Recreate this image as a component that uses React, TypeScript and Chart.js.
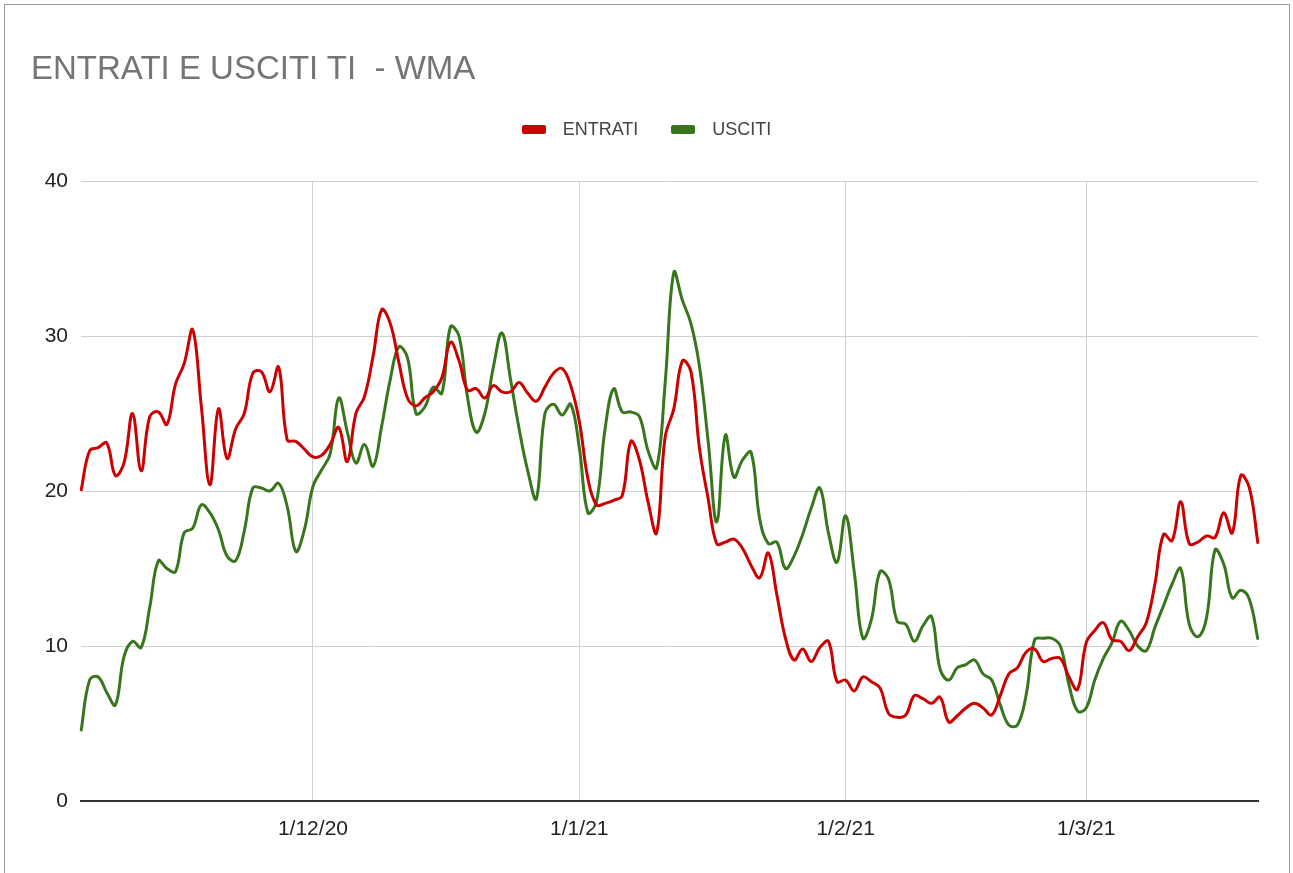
import React, { useEffect, useRef } from "react";
import { Chart, registerables } from "chart.js";

Chart.register(...registerables);

// Daily categories: 4 Nov 2020 .. 21 Mar 2021 (d/m/yy, Italian order)
const START_DATE = new Date(2020, 10, 4);
const DAY_COUNT = 138;
const categories: string[] = Array.from({ length: DAY_COUNT }, (_, i) => {
  const d = new Date(START_DATE.getFullYear(), START_DATE.getMonth(), START_DATE.getDate() + i);
  return `${d.getDate()}/${d.getMonth() + 1}/${String(d.getFullYear()).slice(2)}`;
});

const seriesNames = ["ENTRATI", "USCITI"];
const seriesColors = ["#cc0000", "#38761d"];

const entrati: number[] = [
  20.0, 22.6, 22.8, 23.1, 21.0, 21.8, 25.0, 21.3, 24.8, 25.1,
  24.3, 26.9, 28.2, 30.4, 25.5, 20.4, 25.3, 22.1, 24.0, 25.0,
  27.6, 27.7, 26.4, 28.0, 23.3, 23.2, 22.7, 22.2, 22.3, 23.0,
  24.1, 21.9, 25.0, 26.1, 28.7, 31.7, 30.8, 28.3, 26.0, 25.5,
  26.0, 26.4, 27.3, 29.6, 28.4, 26.5, 26.6, 26.0, 26.8, 26.4,
  26.4, 27.0, 26.3, 25.8, 26.7, 27.6, 27.9, 26.8, 24.5, 20.8,
  19.1, 19.2, 19.4, 19.7, 23.2, 22.0, 19.3, 17.3, 23.5, 25.3,
  28.4, 27.7, 22.7, 19.5, 16.6, 16.7, 16.9, 16.3, 15.2, 14.4,
  16.0, 13.3, 10.5, 9.1, 9.8, 9.0, 9.9, 10.3, 7.7, 7.8,
  7.1, 8.0, 7.7, 7.3, 5.65, 5.4, 5.55, 6.8, 6.6, 6.3,
  6.7, 5.1, 5.5, 6.0, 6.3, 6.0, 5.55, 6.8, 8.2, 8.6,
  9.6, 9.8, 9.0, 9.2, 9.2, 8.0, 7.2, 10.2, 11.0, 11.5,
  10.4, 10.3, 9.7, 10.6, 11.5, 14.0, 17.2, 16.8, 19.3, 16.6,
  16.7, 17.1, 17.0, 18.6, 17.3, 21.0, 20.2, 16.6,
];

const usciti: number[] = [
  4.5, 7.8, 8.0, 7.0, 6.2, 9.3, 10.3, 9.9, 12.5, 15.5,
  15.0, 14.8, 17.3, 17.6, 19.1, 18.6, 17.5, 15.8, 15.5, 17.4,
  20.2, 20.2, 20.0, 20.5, 19.0, 16.1, 17.5, 20.3, 21.35, 22.4,
  26.0, 23.8, 21.8, 23.0, 21.6, 24.2, 27.2, 29.3, 28.6, 25.0,
  25.4, 26.7, 26.3, 30.6, 30.0, 26.0, 23.8, 25.0, 28.0, 30.2,
  27.2, 24.0, 21.3, 19.5, 25.0, 25.6, 24.9, 25.6, 22.8, 18.6,
  19.3, 24.0, 26.6, 25.1, 25.1, 24.8, 22.6, 21.5, 27.0, 34.1,
  32.3, 30.8, 28.0, 23.2, 18.0, 23.6, 20.9, 22.0, 22.5, 18.2,
  16.6, 16.7, 15.0, 15.8, 17.2, 18.9, 20.2, 17.3, 15.4, 18.4,
  14.8, 10.5, 11.7, 14.8, 14.3, 11.6, 11.4, 10.3, 11.3, 11.9,
  8.5, 7.8, 8.6, 8.8, 9.1, 8.2, 7.8, 6.2, 4.9, 4.9,
  6.8, 10.4, 10.5, 10.5, 10.0, 7.5, 5.8, 6.0, 7.8, 9.2,
  10.2, 11.6, 11.0, 10.0, 9.7, 11.2, 12.6, 14.0, 15.0, 11.4,
  10.6, 11.8, 16.2, 15.3, 13.1, 13.6, 13.0, 10.4,
];

const yTicks = [0, 10, 20, 30, 40];
const titleText = "ENTRATI E USCITI TI  - WMA";

const isMonthStart = (label: string | undefined) => !!label && label.startsWith("1/");

export default function App() {
  const canvasRef = useRef<HTMLCanvasElement | null>(null);

  useEffect(() => {
    document.body.style.margin = "0";
    const canvas = canvasRef.current;
    if (!canvas) return;
    const chart = new Chart(canvas, {
      type: "line",
      data: {
        labels: categories,
        datasets: [entrati, usciti].map((vals, i) => ({
          label: seriesNames[i],
          data: vals,
          borderColor: seriesColors[i],
          backgroundColor: seriesColors[i],
          borderWidth: 3,
          pointRadius: 0,
          tension: 0.4,
          fill: false,
        })),
      },
      options: {
        animation: false,
        responsive: false,
        maintainAspectRatio: false,
        layout: { padding: { top: 181, right: 35, left: 0, bottom: 0 } },
        plugins: {
          legend: { display: false },
          title: { display: false },
          tooltip: { enabled: false },
        },
        scales: {
          x: {
            type: "category",
            offset: false,
            grid: {
              drawTicks: false,
              lineWidth: 1,
              color: (ctx: any) =>
                isMonthStart(categories[ctx.index]) ? "#d0d0d0" : "rgba(0,0,0,0)",
            },
            border: { display: true, color: "#333333", width: 2 },
            ticks: {
              autoSkip: false,
              maxRotation: 0,
              minRotation: 0,
              padding: 16,
              color: "#222222",
              font: { family: "'Liberation Sans', Arial, sans-serif", size: 21 },
              callback: (_v: any, idx: number) =>
                isMonthStart(categories[idx]) ? categories[idx] : "",
            },
            afterFit: (scale: any) => {
              scale.height = 72;
            },
          },
          y: {
            min: yTicks[0],
            max: yTicks[yTicks.length - 1],
            afterBuildTicks: (scale: any) => {
              scale.ticks = yTicks.map((v) => ({ value: v }));
            },
            grid: {
              drawTicks: false,
              lineWidth: 1,
              color: (ctx: any) => (ctx.tick && ctx.tick.value === 0 ? "rgba(0,0,0,0)" : "#d0d0d0"),
            },
            border: { display: false },
            ticks: {
              padding: 13,
              color: "#222222",
              font: { family: "'Liberation Sans', Arial, sans-serif", size: 21 },
            },
            afterFit: (scale: any) => {
              scale.width = 81;
            },
          },
        },
      },
    });
    return () => chart.destroy();
  }, []);

  return (
    <div style={{ position: "relative", width: 1293, height: 873, overflow: "hidden", background: "#fff" }}>
      <div
        style={{
          position: "absolute",
          left: 4,
          top: 4,
          width: 1286,
          height: 900,
          border: "1px solid #9a9a9a",
          boxSizing: "border-box",
        }}
      />
      <canvas ref={canvasRef} width={1293} height={873} style={{ position: "absolute", left: 0, top: 0 }} />
      <div
        style={{
          position: "absolute",
          left: 31,
          top: 51,
          font: "33px 'Liberation Sans', Arial, sans-serif",
          lineHeight: "33px",
          color: "#757575",
          whiteSpace: "pre",
        }}
      >
        {titleText}
      </div>
      <div
        style={{
          position: "absolute",
          left: 0,
          top: 116,
          width: 1293,
          height: 26,
          display: "flex",
          justifyContent: "center",
          alignItems: "center",
          font: "18px 'Liberation Sans', Arial, sans-serif",
          color: "#444444",
        }}
      >
        {seriesNames.map((name, i) => (
          <div key={name} style={{ display: "flex", alignItems: "center", marginLeft: i === 0 ? 0 : 33 }}>
            <span
              style={{
                display: "inline-block",
                width: 24,
                height: 9,
                borderRadius: 2,
                background: seriesColors[i],
                marginRight: 17,
              }}
            />
            <span>{name}</span>
          </div>
        ))}
      </div>
    </div>
  );
}
